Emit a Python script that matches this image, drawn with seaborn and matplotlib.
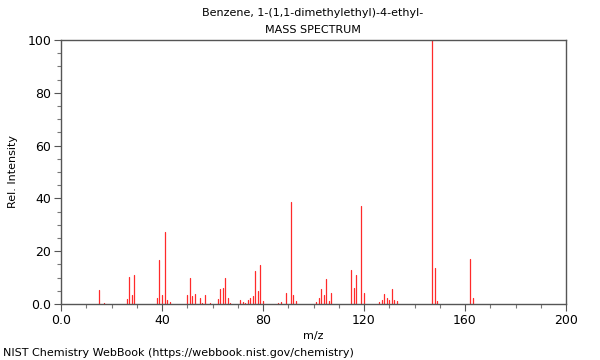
import matplotlib
matplotlib.use("Agg")
import matplotlib.pyplot as plt
import seaborn as sns
import pandas as pd
from matplotlib.ticker import MultipleLocator, FixedLocator, FixedFormatter

mz = [15, 17, 26, 27, 28, 29, 38, 39, 40, 41, 42, 43, 50, 51, 52, 53, 55, 56, 57, 59,
      62, 63, 64, 65, 66, 67, 71, 72, 73, 74, 75, 76, 77, 78, 79, 80, 86, 87, 89, 91,
      92, 93, 101, 102, 103, 104, 105, 106, 107, 115, 116, 117, 119, 120, 126, 127,
      128, 129, 130, 131, 132, 133, 147, 148, 149, 162, 163]
intensity = [5.3, 0.5, 1.9, 10.3, 3.5, 10.9, 2.3, 16.7, 3.3, 27.3, 1.5, 0.8, 3.4, 10.0,
             3.0, 3.8, 2.4, 0.5, 3.3, 0.5, 1.9, 5.8, 6.1, 9.8, 2.3, 0.5, 1.5, 0.9, 0.5,
             1.5, 2.3, 3.0, 12.6, 4.8, 14.6, 1.0, 0.5, 0.6, 4.3, 38.5, 3.4, 1.0, 0.6, 2.3,
             5.6, 3.5, 9.3, 1.3, 4.0, 13.0, 5.9, 10.9, 37.2, 4.2, 0.8, 1.6, 3.8, 2.1, 1.6,
             5.7, 1.6, 1.0, 100, 13.6, 1.0, 17.0, 2.3]
x_ticks = [0, 40, 80, 120, 160, 200]
x_labels = ["0.0", "40", "80", "120", "160", "200"]
y_ticks = [0, 20, 40, 60, 80, 100]
y_labels = ["0.0", "20", "40", "60", "80", "100"]

sns.set_style("white")
plt.rcParams['font.family'] = ['DejaVu Sans']
plt.rcParams['text.color'] = 'black'
plt.rcParams['axes.labelcolor'] = 'black'
plt.rcParams['xtick.labelcolor'] = 'black'
plt.rcParams['ytick.labelcolor'] = 'black'

# stems: each peak is a line from baseline to its intensity
rows = []
for m, v in zip(mz, intensity):
    rows.append({"mz": m, "y": 0.0, "peak": m})
    rows.append({"mz": m, "y": v, "peak": m})
df = pd.DataFrame(rows)

fig = plt.figure(figsize=(6, 3.6), dpi=100)
ax = fig.add_axes([61/600, 1 - 304/360, 505/600, 264/360])
sns.lineplot(data=df, x="mz", y="y", units="peak", estimator=None, sort=False,
             color="#ff2a2a", linewidth=0.9, ax=ax, legend=False)

ax.set_xlim(0, 200)
ax.set_ylim(0, 100)
ax.xaxis.set_major_locator(FixedLocator(x_ticks))
ax.xaxis.set_major_formatter(FixedFormatter(x_labels))
ax.yaxis.set_major_locator(FixedLocator(y_ticks))
ax.yaxis.set_major_formatter(FixedFormatter(y_labels))
ax.xaxis.set_minor_locator(MultipleLocator(10))
ax.yaxis.set_minor_locator(MultipleLocator(5))
ax.tick_params(axis="both", which="major", direction="out", length=5, width=0.8,
               color="#555555", labelcolor="black", labelsize=9, pad=2,
               bottom=True, left=True)
ax.tick_params(axis="both", which="minor", direction="out", length=3, width=0.8,
               color="#777777", bottom=True, left=True)
for s in ax.spines.values():
    s.set_visible(True)
    s.set_color("#555555")
    s.set_linewidth(1.0)
ax.set_xlabel("m/z", fontsize=8, labelpad=3, color="black")
ax.set_ylabel("Rel. Intensity", fontsize=8, labelpad=7, color="black")

fig.text(313/600, 1 - 13/360, "Benzene, 1-(1,1-dimethylethyl)-4-ethyl-", ha="center",
         va="center", fontsize=8, color="black")
fig.text(313/600, 1 - 30/360, "MASS SPECTRUM", ha="center", va="center", fontsize=8,
         color="black")
fig.text(3/600, 1 - 353/360, "NIST Chemistry WebBook (https://webbook.nist.gov/chemistry)",
         ha="left", va="center", fontsize=8, color="black")

fig.savefig("out.png", dpi=100)
